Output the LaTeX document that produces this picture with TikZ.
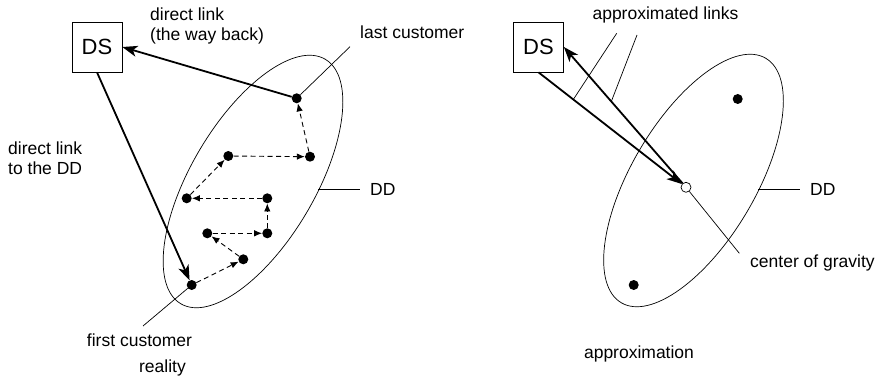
\documentclass[tikz,border=0pt]{standalone}
\usepackage{fontspec}
\setmainfont{Liberation Sans}
\usetikzlibrary{arrows.meta,shapes.geometric,calc}

\begin{document}
\begin{tikzpicture}[x=1pt, y=-1pt, font={\fontsize{17.5}{20}\selectfont}]
	\tikzstyle{depot} = [ draw, rectangle, line width=0.7pt, minimum size=50pt, inner sep=0pt, font={\fontsize{22}{24}\selectfont}];
	\tikzstyle{area} = [ draw, ellipse, line width=0.7pt, minimum width=284pt, minimum height=124pt, inner sep=0pt, rotate=59.4];
	\tikzstyle{cust} = [ circle, fill=black, inner sep=0pt, minimum size=10pt];
	\tikzstyle{gravity} = [ circle, draw, fill=white, line width=0.7pt, inner sep=0pt, minimum size=10pt];
	\tikzstyle{info} = [ inner sep=0pt, align=left];
	\tikzstyle{link} = [ -{Stealth[length=15pt, width=11pt, inset=4pt]}, line width=1.8pt];
	\tikzstyle{hop} = [ -{Latex[length=8pt, width=6.5pt]}, line width=0.9pt, dash pattern=on 5pt off 3.5pt];
	\tikzstyle{leader} = [ line width=0.7pt];

	\useasboundingbox (0,0) rectangle (882,379);

	% reality
	\node[area] (ddL) at (253,181.5) {};
	\node[depot] (dsL) at (97,47) {DS};

	\def \route {191.7/285, 243.3/259.3, 207.3/233.3, 267.3/233.3, 267.3/198.3, 186.7/198.3, 228.3/156, 310/156.7, 296.7/98.3}

	\foreach \px/\py [count=\xi] in \route {
		\node[cust] (c\xi) at (\px,\py) {};
		\ifnum 1 < \xi
			\pgfmathparse{int(\xi-1)}
			\let \li \pgfmathresult
			\draw[hop] (c\li) -- (c\xi);
		\fi
	}

	\draw[link] (dsL.south) -- (c1);
	\draw[link] (c9) -- (dsL.east);

	\node[info, anchor=west] (back) at (150,26) {direct link\\(the way back)};
	\node[info, anchor=west] (toDD) at (8,158.5) {direct link\\to the DD};
	\node[info, anchor=west] (last) at (360,32) {last customer};
	\node[info] (first) at (139.5,340) {first customer};
	\node[info] (real) at (162.5,368) {reality};
	\node[info, anchor=west] (ddLlab) at (370,189.5) {DD};

	\coordinate (lastTip) at (350,46.7);
	\coordinate (firstTip) at (143,326);
	\coordinate (ddLtip) at (318.3,189.5);
	\draw[leader] (c9) -- (lastTip);
	\draw[leader] (c1) -- (firstTip);
	\draw[leader] (ddLtip) -- ($(ddLlab.west)+(-10,0)$);

	% approximation
	\node[area] (ddR) at (693.5,180.5) {};
	\node[depot] (dsR) at (538.5,47) {DS};
	\node[cust] (p1) at (737.7,99) {};
	\node[cust] (p2) at (633.7,285) {};
	\node[gravity] (cog) at (686,187.3) {};

	\draw[link] (dsR.south) -- (cog) coordinate[pos=0.243] (goMark);
	\draw[link] (cog) -- (dsR.east) coordinate[pos=0.6] (backMark);

	\node[info] (links) at (665.5,15) {approximated links};
	\node[info, anchor=west] (cogLab) at (750,262.5) {center of gravity};
	\node[info] (approx) at (639,354) {approximation};
	\node[info, anchor=west] (ddRlab) at (810,189.5) {DD};

	\coordinate (linkA) at (616.7,33.3);
	\coordinate (linkB) at (637,35);
	\coordinate (cogTip) at (739.3,253.3);
	\coordinate (ddRtip) at (758.3,189.5);
	\draw[leader] (linkA) -- (goMark);
	\draw[leader] (linkB) -- (backMark);
	\draw[leader] (cog) -- (cogTip);
	\draw[leader] (ddRtip) -- ($(ddRlab.west)+(-10,0)$);
\end{tikzpicture}
\end{document}
